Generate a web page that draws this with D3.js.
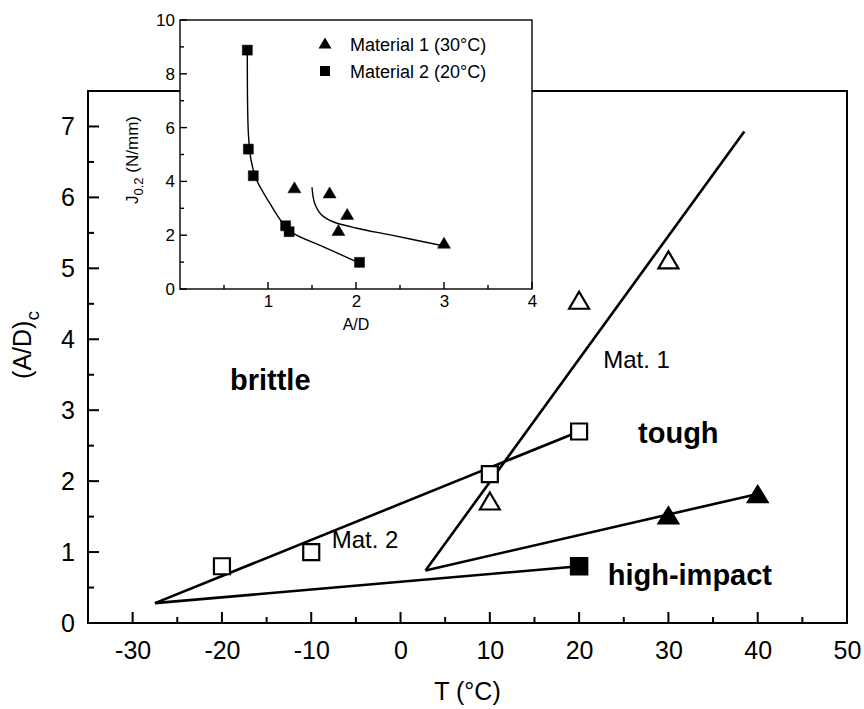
<!DOCTYPE html>
<html>
<head>
<meta charset="utf-8">
<script src="https://d3js.org/d3.v7.min.js"></script>
</head>
<body style="margin:0">
<svg id="chart" width="864" height="709"></svg>
<script>
// main chart data: (A/D)c vs T
const mainXTicks = [-30, -20, -10, 0, 10, 20, 30, 40, 50];
const mainYTicks = [0, 1, 2, 3, 4, 5, 6, 7];
const mat1OpenT = [10, 20, 30];
const mat1OpenAD = [1.72, 4.55, 5.12];
const mat2OpenT = [-20, -10, 10, 20];
const mat2OpenAD = [0.80, 1.00, 2.10, 2.70];
const mat1FilledT = [30, 40];
const mat1FilledAD = [1.52, 1.82];
const mat2FilledT = [20];
const mat2FilledAD = [0.80];
// straight boundary lines [T, A/D]
const mat1Line = [[2.8, 0.74], [38.5, 6.93]];
const mat1FilledLine = [[2.8, 0.74], [40, 1.82]];
const mat2Line = [[-27.5, 0.28], [20, 2.70]];
const mat2FilledLine = [[-27.5, 0.28], [20, 0.80]];

// inset data: J0.2 vs A/D
const insetXTicks = [1, 2, 3, 4];
const insetYTicks = [0, 2, 4, 6, 8, 10];
const insetM1AD = [1.30, 1.70, 1.90, 1.80, 3.00];
const insetM1J = [3.78, 3.59, 2.79, 2.19, 1.72];
const insetM2AD = [0.765, 0.777, 0.833, 1.20, 1.24, 2.04];
const insetM2J = [8.88, 5.20, 4.21, 2.35, 2.13, 0.99];
const insetM1Fit = [[1.50, 3.78], [1.53, 3.19], [1.61, 2.75], [1.74, 2.50], [2.01, 2.26], [2.39, 2.01], [3.00, 1.60]];
const insetM2Fit = [[0.765, 8.88], [0.777, 5.79], [0.807, 4.80], [0.871, 4.05], [1.02, 3.19], [1.17, 2.44], [1.29, 2.07], [1.63, 1.57], [2.04, 0.96]];

const FONT = "Arial, 'Liberation Sans', sans-serif";
const svg = d3.select("#chart");
svg.append("rect").attr("width", 864).attr("height", 709).attr("fill", "#fff");

function triPath(w, h) {
   return `M0,${-h / 2}L${w / 2},${h / 2}L${-w / 2},${h / 2}Z`;
}
function sqPath(s) {
   return `M${-s / 2},${-s / 2}h${s}v${s}h${-s}Z`;
}

// tick marks as small filled rects straight on the svg, pointing inward
function drawTicks(scale, values, orient, base, len, sw) {
   const t = svg.selectAll(null).data(values).enter().append("rect").attr("fill", "#000");
   if (orient === "bottom") {
      t.attr("x", d => scale(d) - sw / 2).attr("y", base - len)
         .attr("width", sw).attr("height", len);
   } else {
      t.attr("x", base).attr("y", d => scale(d) - sw / 2)
         .attr("width", len).attr("height", sw);
   }
}

// tick labels via d3 axis (tick lines removed, domain removed)
function addLabels(g, axis, tx, ty, fontSize) {
   const a = g.append("g")
      .attr("transform", `translate(${tx},${ty})`)
      .call(axis.tickSize(0).tickFormat(d => String(d)));
   a.select(".domain").remove();
   a.selectAll(".tick line").remove();
   a.selectAll(".tick text")
      .attr("font-size", fontSize)
      .attr("font-family", FONT)
      .attr("fill", "#000");
   return a;
}

function addText(g, px, py, str, size, bold) {
   return g.append("text").attr("x", px).attr("y", py)
      .attr("font-family", FONT).attr("font-size", size)
      .attr("font-weight", bold ? "bold" : "normal").attr("fill", "#000")
      .text(str);
}

// markers
function drawMarkers(g, xs, ys, sx, sy, shape, fill, sw) {
   g.selectAll(null).data(xs).enter().append("path")
      .attr("transform", (d, i) => `translate(${sx(d)},${sy(ys[i])})`)
      .attr("d", shape)
      .attr("fill", fill).attr("stroke", "#000").attr("stroke-width", sw);
}

// ---------- main plot ----------
const x = d3.scaleLinear().domain([-35, 50]).range([88, 847]);
const y = d3.scaleLinear().domain([0, 7.5]).range([623, 91]);

const main = svg.append("g");

main.append("rect")
   .attr("x", x(-35)).attr("y", y(7.5))
   .attr("width", x(50) - x(-35)).attr("height", y(0) - y(7.5))
   .attr("fill", "none").attr("stroke", "#000").attr("stroke-width", 2);

const mx = addLabels(main, d3.axisBottom(x).tickValues(mainXTicks), 0, y(0), 25);
const my = addLabels(main, d3.axisLeft(y).tickValues(mainYTicks), x(-35), 0, 25);
mx.selectAll(".tick text").attr("dy", "0.71em").attr("y", 18);
my.selectAll(".tick text").attr("x", -13);

addText(main, (x(-35) + x(50)) / 2, 700, "T (°C)", 25).attr("text-anchor", "middle");

const yt = main.append("text")
   .attr("transform", "translate(31,345) rotate(-90)")
   .attr("text-anchor", "middle").attr("font-size", 25)
   .attr("font-family", FONT).attr("fill", "#000");
yt.append("tspan").text("(A/D)");
yt.append("tspan").attr("font-size", 19).attr("dy", 8).text("c");

// lines
const lineGen = d3.line().x(d => x(d[0])).y(d => y(d[1]));
[mat1Line, mat1FilledLine, mat2Line, mat2FilledLine].forEach(l => {
   main.append("path").attr("d", lineGen(l))
      .attr("fill", "none").attr("stroke", "#000").attr("stroke-width", 2.6);
});

drawMarkers(main, mat2OpenT, mat2OpenAD, x, y, sqPath(16), "#fff", 2.2);
drawMarkers(main, mat1OpenT, mat1OpenAD, x, y, triPath(20, 17), "#fff", 2.2);
drawMarkers(main, mat1FilledT, mat1FilledAD, x, y, triPath(21, 17), "#000", 1.5);
drawMarkers(main, mat2FilledT, mat2FilledAD, x, y, sqPath(17), "#000", 1.5);

// annotations
addText(main, x(-19.1), y(3.28), "brittle", 29, true);
addText(main, x(26.6), y(2.54), "tough", 29, true);
addText(main, x(23.2), y(0.535), "high-impact", 29, true);
addText(main, x(22.7), y(3.6), "Mat. 1", 24);
addText(main, x(-7.7), y(1.06), "Mat. 2", 24);

// ---------- inset ----------
const ix = d3.scaleLinear().domain([0, 4]).range([180, 532]);
const iy = d3.scaleLinear().domain([0, 10]).range([289, 20]);
const inset = svg.append("g");

inset.append("rect")
   .attr("x", ix(0)).attr("y", iy(10))
   .attr("width", ix(4) - ix(0)).attr("height", iy(0) - iy(10))
   .attr("fill", "#fff").attr("stroke", "#000").attr("stroke-width", 1.4);

const ixa = addLabels(inset, d3.axisBottom(ix).tickValues(insetXTicks), 0, iy(0), 17);
const iya = addLabels(inset, d3.axisLeft(iy).tickValues(insetYTicks), ix(0), 0, 17);
ixa.selectAll(".tick text").attr("dy", "0.71em").attr("y", 6);
iya.selectAll(".tick text").attr("x", -5);

addText(inset, ix(2), 330, "A/D", 16).attr("text-anchor", "middle");
const it = inset.append("text")
   .attr("transform", "translate(138,160) rotate(-90)")
   .attr("text-anchor", "middle").attr("font-size", 17)
   .attr("font-family", FONT).attr("fill", "#000");
it.append("tspan").text("J");
it.append("tspan").attr("font-size", 13).attr("dy", 5).text("0.2");
it.append("tspan").attr("dy", -5).text(" (N/mm)");

const iline = d3.line().x(d => ix(d[0])).y(d => iy(d[1])).curve(d3.curveCatmullRom);
[insetM1Fit, insetM2Fit].forEach(l => {
   inset.append("path").attr("d", iline(l))
      .attr("fill", "none").attr("stroke", "#000").attr("stroke-width", 1.4);
});

drawMarkers(inset, insetM2AD, insetM2J, ix, iy, sqPath(10), "#000", 0.5);
drawMarkers(inset, insetM1AD, insetM1J, ix, iy, triPath(13, 11), "#000", 0.5);

// legend
const legend = inset.append("g");
legend.append("path").attr("transform", "translate(325,43)").attr("d", triPath(13, 11)).attr("fill", "#000");
legend.append("path").attr("transform", "translate(325,71)").attr("d", sqPath(10)).attr("fill", "#000");
addText(legend, 350, 51, "Material 1 (30°C)", 18);
addText(legend, 350, 78, "Material 2 (20°C)", 18);

// ---------- ticks, drawn last ----------
const xMinor = d3.range(-25, 50, 10);
const yMinor = d3.range(0.5, 7.5, 1);
drawTicks(x, mainXTicks, "bottom", y(0), 11, 2);
drawTicks(x, xMinor, "bottom", y(0), 6, 2);
drawTicks(y, mainYTicks, "left", x(-35), 11, 2);
drawTicks(y, yMinor, "left", x(-35), 6, 2);

const ixMinor = d3.range(0.5, 4, 1);
const iyMinor = d3.range(1, 10, 2);
drawTicks(ix, insetXTicks, "bottom", iy(0), 7, 1.4);
drawTicks(ix, ixMinor, "bottom", iy(0), 4, 1.4);
drawTicks(iy, insetYTicks, "left", ix(0), 7, 1.4);
drawTicks(iy, iyMinor, "left", ix(0), 4, 1.4);
</script>
</body>
</html>
